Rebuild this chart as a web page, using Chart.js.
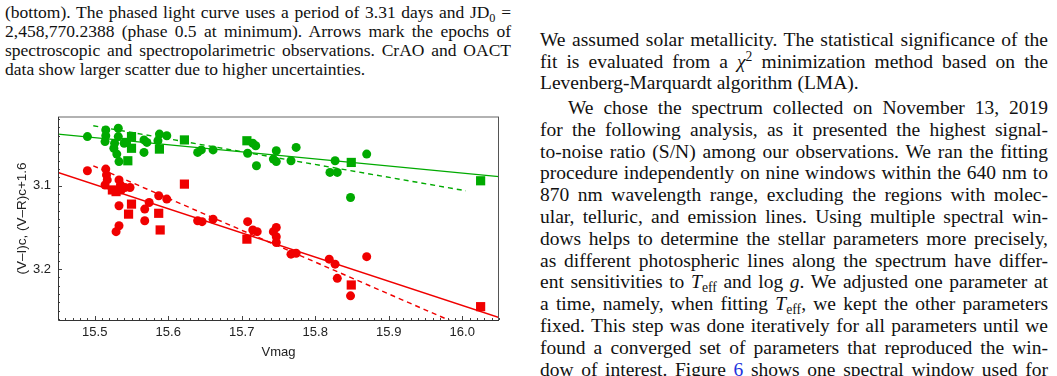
<!DOCTYPE html>
<html>
<head>
<meta charset="utf-8">
<script src="https://cdn.jsdelivr.net/npm/chart.js@4"></script>
<style>
  html, body { margin: 0; padding: 0; background: #fff; }
  body { width: 1057px; height: 376px; position: relative; overflow: hidden;
         font-family: "Liberation Serif", "DejaVu Serif", serif; color: #111; }
  .ln { position: absolute; height: 20px; line-height: 20px; white-space: normal;
        text-align: justify; text-align-last: justify; }
  .ln.last { text-align-last: left; }
  .cap { left: 5px; width: 506px; font-size: 17.5px; }
  .body { left: 540px; width: 508px; font-size: 19.5px; }
  sub, sup { font-size: 0.7em; line-height: 0; position: relative; vertical-align: baseline; }
  sub { top: 0.3em; }
  sup { top: -0.45em; }
  .ref { color: #2233dd; }
  #plot { position: absolute; left: 0; top: 100px; width: 525px; height: 265px; }
</style>
</head>
<body>

<div class="ln cap" style="top:2px">(bottom). The phased light curve uses a period of 3.31 days and JD<sub>0</sub> =</div>
<div class="ln cap" style="top:21px">2,458,770.2388 (phase 0.5 at minimum). Arrows mark the epochs of</div>
<div class="ln cap" style="top:40px">spectroscopic and spectropolarimetric observations. CrAO and OACT</div>
<div class="ln cap last" style="top:59px">data show larger scatter due to higher uncertainties.</div>

<div class="ln body" style="top:30px">We assumed solar metallicity. The statistical significance of the</div>
<div class="ln body" style="top:51.5px">fit is evaluated from a <i>χ</i><sup>2</sup> minimization method based on the</div>
<div class="ln body last" style="top:73px">Levenberg-Marquardt algorithm (LMA).</div>
<div class="ln body" style="top:98px; left:568px; width:480px">We chose the spectrum collected on November 13, 2019</div>
<div class="ln body" style="top:119.8px">for the following analysis, as it presented the highest signal-</div>
<div class="ln body" style="top:141.6px">to-noise ratio (S/N) among our observations. We ran the fitting</div>
<div class="ln body" style="top:163.4px">procedure independently on nine windows within the 640 nm to</div>
<div class="ln body" style="top:185.2px">870 nm wavelength range, excluding the regions with molec-</div>
<div class="ln body" style="top:207px">ular, telluric, and emission lines. Using multiple spectral win-</div>
<div class="ln body" style="top:228.8px">dows helps to determine the stellar parameters more precisely,</div>
<div class="ln body" style="top:250.6px">as different photospheric lines along the spectrum have differ-</div>
<div class="ln body" style="top:272.4px">ent sensitivities to <i>T</i><sub>eff</sub> and log <i>g</i>. We adjusted one parameter at</div>
<div class="ln body" style="top:294.2px">a time, namely, when fitting <i>T</i><sub>eff</sub>, we kept the other parameters</div>
<div class="ln body" style="top:316px">fixed. This step was done iteratively for all parameters until we</div>
<div class="ln body" style="top:337.8px">found a converged set of parameters that reproduced the win-</div>
<div class="ln body" style="top:359.6px">dow of interest. Figure <span class="ref">6</span> shows one spectral window used for</div>

<div id="plot"><canvas id="colourChart"></canvas></div>

<script>
// colour index vs Vmag: [Vmag, colour]
const viCircles = [
  [15.490, 3.082], [15.515, 3.080], [15.516, 3.087], [15.517, 3.093], [15.514, 3.099],
  [15.533, 3.093], [15.535, 3.099], [15.536, 3.105], [15.541, 3.102], [15.548, 3.102],
  [15.533, 3.124], [15.568, 3.128], [15.568, 3.142], [15.574, 3.120], [15.587, 3.112],
  [15.598, 3.116], [15.533, 3.148], [15.529, 3.155], [15.640, 3.142], [15.646, 3.143],
  [15.661, 3.140], [15.708, 3.143], [15.715, 3.153], [15.721, 3.155], [15.747, 3.150],
  [15.743, 3.155], [15.747, 3.161], [15.747, 3.168], [15.767, 3.182], [15.774, 3.181],
  [15.819, 3.188], [15.827, 3.194], [15.830, 3.211], [15.870, 3.185], [15.848, 3.232]
];
const viSquares = [
  [15.524, 3.105], [15.529, 3.107], [15.550, 3.122], [15.546, 3.134], [15.587, 3.133],
  [15.589, 3.153], [15.622, 3.098], [15.707, 3.164], [15.849, 3.219], [16.025, 3.245]
];
const vrCircles = [
  [15.490, 3.041], [15.515, 3.033], [15.532, 3.031], [15.515, 3.040], [15.514, 3.047],
  [15.527, 3.049], [15.526, 3.055], [15.530, 3.062], [15.533, 3.071], [15.532, 3.041],
  [15.540, 3.049], [15.567, 3.045], [15.571, 3.048], [15.567, 3.060], [15.588, 3.038],
  [15.586, 3.046], [15.598, 3.040], [15.640, 3.060], [15.645, 3.057], [15.661, 3.057],
  [15.715, 3.049], [15.719, 3.052], [15.708, 3.061], [15.720, 3.076], [15.747, 3.058],
  [15.743, 3.068], [15.747, 3.071], [15.774, 3.054], [15.767, 3.070], [15.827, 3.070],
  [15.820, 3.084], [15.830, 3.084], [15.870, 3.062], [15.848, 3.114]
];
const vrSquares = [
  [15.545, 3.070], [15.550, 3.041], [15.550, 3.055], [15.543, 3.048], [15.588, 3.056],
  [15.622, 3.045], [15.707, 3.046], [15.849, 3.072], [16.025, 3.094]
];
// fitted relations (end points)
const vrFitAll = [[15.45, 3.038], [16.05, 3.089]];
const vrFitSub = [[15.498, 3.028], [16.005, 3.106]];
const viFitAll = [[15.45, 3.084], [16.05, 3.258]];
const viFitSub = [[15.498, 3.076], [16.005, 3.270]];

const xTicks = [15.5, 15.6, 15.7, 15.8, 15.9, 16.0];
const yTicks = [3.1, 3.2];
const xRange = [15.45, 16.05];
const yRange = [3.0175, 3.261];

const GREEN = 'rgb(0,170,0)';
const RED = 'rgb(240,0,0)';

const toXY = arr => arr.map(p => ({ x: p[0], y: p[1] }));

function pts(data, color, style, r) {
    return { type: 'scatter', data: toXY(data), pointStyle: style, pointRadius: r,
             backgroundColor: color, borderWidth: 0, pointHoverRadius: r };
}
function fit(data, color, dash) {
    return { type: 'line', data: toXY(data), borderColor: color, borderWidth: 1.4,
             borderDash: dash, pointRadius: 0, fill: false, tension: 0 };
}

// inward frame ticks plus the plot frame
const frameTicks = {
    id: 'frameTicks',
    afterDraw(chart) {
        const { ctx, chartArea: a, scales: { x, y } } = chart;
        ctx.save();
        ctx.lineWidth = 1;
        ctx.strokeStyle = '#444';
        ctx.beginPath();
        for (let i = Math.round(xRange[0] * 100); i <= Math.round(xRange[1] * 100); i++) {
            const px = Math.round(x.getPixelForValue(i / 100)) + 0.5;
            const len = i % 10 === 0 ? 4 : 2;
            ctx.moveTo(px, a.bottom); ctx.lineTo(px, a.bottom - len);
        }
        for (let i = Math.ceil(yRange[0] * 100); i <= Math.floor(yRange[1] * 100); i++) {
            const py = Math.round(y.getPixelForValue(i / 100)) + 0.5;
            const len = i % 10 === 0 ? 4 : 2;
            ctx.moveTo(a.left, py); ctx.lineTo(a.left + len, py);
        }
        ctx.stroke();

        ctx.strokeStyle = '#999';
        ctx.lineWidth = 1.5;
        ctx.beginPath();
        ctx.moveTo(a.left, a.top); ctx.lineTo(a.right, a.top);
        ctx.stroke();
        ctx.strokeStyle = '#555';
        ctx.lineWidth = 1;
        ctx.beginPath();
        ctx.moveTo(a.right - 0.5, a.top); ctx.lineTo(a.right - 0.5, a.bottom);
        ctx.stroke();
        ctx.strokeStyle = '#333';
        ctx.beginPath();
        ctx.moveTo(a.left + 0.5, a.top); ctx.lineTo(a.left + 0.5, a.bottom + 0.5);
        ctx.lineTo(a.right, a.bottom + 0.5);
        ctx.stroke();
        ctx.restore();
    }
};

const tickFont = { family: '"Liberation Sans", Arial, sans-serif', size: 13 };

new Chart(document.getElementById('colourChart'), {
    data: {
        datasets: [
            pts(vrCircles, GREEN, 'circle', 4.5),
            pts(vrSquares, GREEN, 'rect', 6.5),
            pts(viCircles, RED, 'circle', 4.5),
            pts(viSquares, RED, 'rect', 6.5),
            fit(vrFitAll, GREEN, []),
            fit(vrFitSub, GREEN, [5, 4]),
            fit(viFitAll, RED, []),
            fit(viFitSub, RED, [5, 4])
        ]
    },
    options: {
        responsive: true,
        maintainAspectRatio: false,
        animation: false,
        events: [],
        layout: { padding: { top: 17, right: 26, left: 0, bottom: 0 } },
        plugins: { legend: { display: false }, tooltip: { enabled: false } },
        scales: {
            x: {
                type: 'linear', min: xRange[0], max: xRange[1],
                grid: { display: false, drawTicks: false },
                border: { display: false },
                afterBuildTicks: s => { s.ticks = xTicks.map(v => ({ value: v })); },
                afterFit: s => { s.height = 45; },
                ticks: { padding: 5, maxRotation: 0, color: '#222', font: tickFont,
                         callback: v => v.toFixed(1) },
                title: { display: true, text: 'Vmag', color: '#222', font: tickFont,
                         padding: { top: 0, bottom: 5 } }
            },
            y: {
                type: 'linear', reverse: true, min: yRange[0], max: yRange[1],
                grid: { display: false, drawTicks: false },
                border: { display: false },
                afterBuildTicks: s => { s.ticks = yTicks.map(v => ({ value: v })); },
                afterFit: s => { s.width = 58; },
                ticks: { padding: 7, color: '#222', font: tickFont,
                         callback: v => v.toFixed(1) },
                title: { display: true, text: '(V\u2013I)c, (V\u2013R)c+1.6', color: '#222',
                         font: { family: tickFont.family, size: 13.5 },
                         padding: { top: 14, bottom: 0 } }
            }
        }
    },
    plugins: [frameTicks]
});
</script>
</body>
</html>
